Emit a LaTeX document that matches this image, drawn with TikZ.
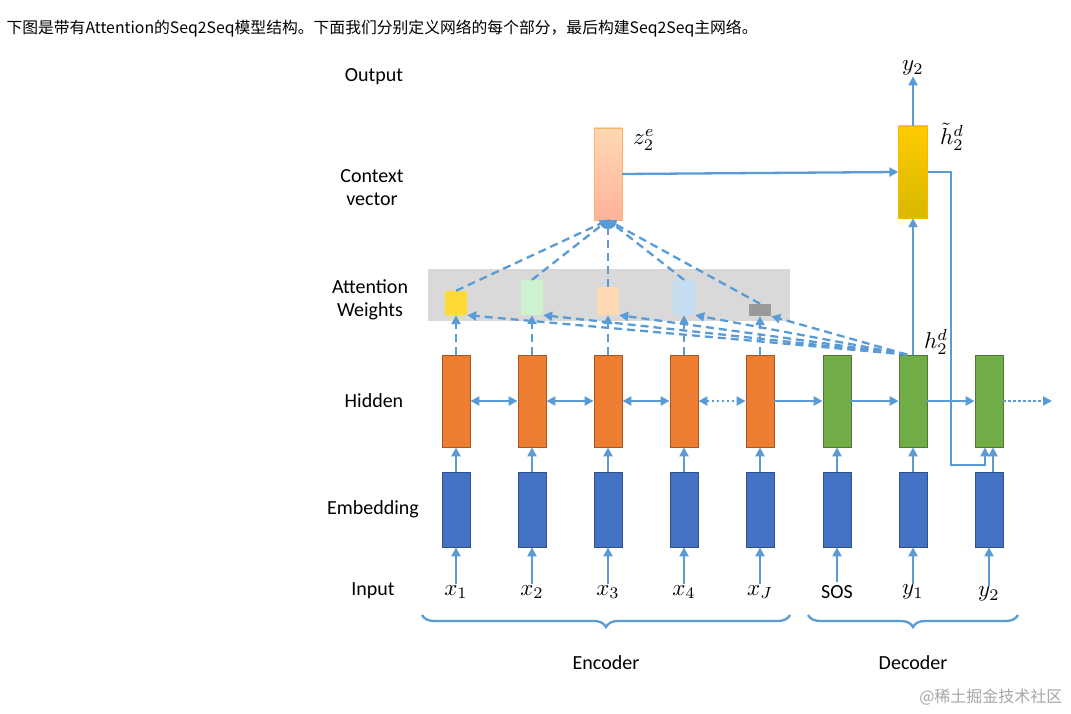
\documentclass[tikz,border=0pt]{standalone}
\usepackage{graphicx}
\usepackage{fontspec}
\setmainfont{Carlito}
\newfontfamily\cjk{Noto Sans CJK SC}
\usetikzlibrary{arrows.meta,decorations.pathreplacing}
\definecolor{lb}{HTML}{5B9BD5}
\definecolor{org}{HTML}{ED7D31}
\definecolor{grn}{HTML}{70AD47}
\definecolor{blu}{HTML}{4472C4}
\newcommand{\mymth}[1]{\scalebox{2.3}{$#1$}}
\begin{document}
\begin{tikzpicture}[x=1pt,y=-1pt,
  conn/.style={draw=lb,line width=2.3pt,-{Triangle[length=9pt,width=9pt]}},
  dconn/.style={conn,dash pattern=on 8pt off 5pt},
  box/.style={draw=#1!70!black,fill=#1,line width=0.8pt,minimum width=28pt,inner sep=0pt},
  hid/.style={box=org,minimum height=92pt},
  emb/.style={box=blu,minimum height=75pt},
  dec/.style={box=grn,minimum height=92pt},
  lab/.style={font=\fontsize{20}{23}\selectfont,align=center},
  inp/.style={inner sep=1pt},
  wt/.style={minimum width=22pt,inner sep=0pt}]
\useasboundingbox (0,0) rectangle (1071,714);
\node[anchor=west,font=\cjk\fontsize{15.8}{18}\selectfont] (title) at (3,29) {下图是带有Attention的Seq2Seq模型结构。下面我们分别定义网络的每个部分，最后构建Seq2Seq主网络。};
\node[lab] (lo) at (374,77) {Output};
\node[lab] (lc) at (372,188) {Context\\vector};
\node[lab] (la) at (370,300) {Attention\\Weights};
\node[lab] (lh) at (374,401) {Hidden};
\node[lab] (le) at (373,509) {Embedding};
\node[lab] (li) at (373,591) {Input};
\node[fill=black!15,minimum width=362pt,minimum height=52pt,inner sep=0pt] (gray) at (609,295) {};
\node[wt,fill=yellow!70!orange!80,minimum height=24pt] (w1) at (456,303) {};
\node[wt,fill=green!15!white!95!black,minimum height=35pt] (w2) at (532,297.5) {};
\node[wt,fill=orange!30,minimum height=28pt] (w3) at (608,301) {};
\node[wt,fill=lb!35,minimum height=35pt] (w4) at (684,297.5) {};
\node[wt,fill=black!40,minimum height=12pt] (w5) at (760,310) {};
\node[draw=orange!60,top color=orange!30,bottom color=orange!50!red!40!white,minimum width=28pt,minimum height=92pt,inner sep=0pt] (z) at (608,174) {};
\node[draw=orange!60!yellow,top color=yellow!60!orange,bottom color=orange!30!yellow!85!black,minimum width=29pt,minimum height=92pt,inner sep=0pt] (ht) at (913,172) {};
\node[inp] (zl) at (644,140) {\mymth{z_2^e}};
\node[inp] (htl) at (952,137) {\mymth{\tilde h_2^d}};
\node[inp] (hl) at (936,342) {\mymth{h_2^d}};
\node[inp] (yo) at (913,68) {\mymth{y_2}};
\foreach \i/\x in {6/837,7/913,8/989}{
  \node[dec] (h\i) at (\x,401) {};
  \node[emb] (e\i) at (\x,509.5) {};
}
\coordinate (src) at ([xshift=-6pt]h7.north);
\foreach \i/\x/\t in {1/456/x_1,2/532/x_2,3/608/x_3,4/684/x_4,5/760/x_J}{
  \node[hid] (h\i) at (\x,401) {};
  \node[emb] (e\i) at (\x,509.5) {};
  \node[inp] (i\i) at (\x,592) {\mymth{\t}};
  \draw[conn] (i\i.north) -- (e\i.south);
  \draw[conn] (e\i.north) -- (h\i.south);
  \draw[dconn] (h\i.north) -- (w\i.south);
  \draw[dconn] (src) -- (w\i.south east);
  \draw[draw=lb,line width=2.3pt,dash pattern=on 8pt off 5pt] (w\i.north) -- (z.south);
}
\fill[lb] (z.south) ++(-9,0) arc[start angle=180,end angle=360,radius=9pt] -- cycle;
\node[lab] (i6) at (837,592) {SOS};
\node[inp] (i7) at (913,592) {\mymth{y_1}};
\node[inp] (i8) at (989,594) {\mymth{y_2}};
\draw[conn] (i6.north) -- (e6.south);
\draw[conn] (e6.north) -- (h6.south);
\draw[conn] (i7.north) -- (e7.south);
\draw[conn] (e7.north) -- (h7.south);
\draw[conn] (i8.north) -- (e8.south);
\draw[conn] ([xshift=4pt]e8.north) -- ([xshift=4pt]h8.south);
\draw[conn,{Triangle[length=9pt,width=9pt]}-{Triangle[length=9pt,width=9pt]}] (h1) -- (h2);
\draw[conn,{Triangle[length=9pt,width=9pt]}-{Triangle[length=9pt,width=9pt]}] (h2) -- (h3);
\draw[conn,{Triangle[length=9pt,width=9pt]}-{Triangle[length=9pt,width=9pt]}] (h3) -- (h4);
\draw[conn,dash pattern=on 2.5pt off 2.5pt,{Triangle[length=9pt,width=9pt]}-{Triangle[length=9pt,width=9pt]}] (h4) -- (h5);
\draw[conn] (h5) -- (h6);
\draw[conn] (h6) -- (h7);
\draw[conn] (h7) -- (h8);
\coordinate (dend) at (1052,401);
\draw[conn,dash pattern=on 2.5pt off 2.5pt] (h8) -- (dend);
\draw[conn] (z.east) -- (ht.west);
\draw[conn] (h7.north) -- (ht.south);
\draw[conn] (ht.north) -- (yo.south);
\draw[conn] (ht.east) -- (951,172) -- (951,465) -- (985,465) -- ([xshift=-4pt]h8.south);
\draw[lb,line width=2.3pt,decorate,decoration={brace,mirror,amplitude=12pt}] (422,615) -- (790,615) node[midway,below=36pt,lab,black] (enc) {Encoder};
\draw[lb,line width=2.3pt,decorate,decoration={brace,mirror,amplitude=12pt}] (808,615) -- (1018,615) node[midway,below=36pt,lab,black] (decl) {Decoder};
\node[anchor=east,font=\cjk\fontsize{16}{18}\selectfont,text=black!35] (wm) at (1066,697) {@稀土掘金技术社区};
\end{tikzpicture}
\end{document}
